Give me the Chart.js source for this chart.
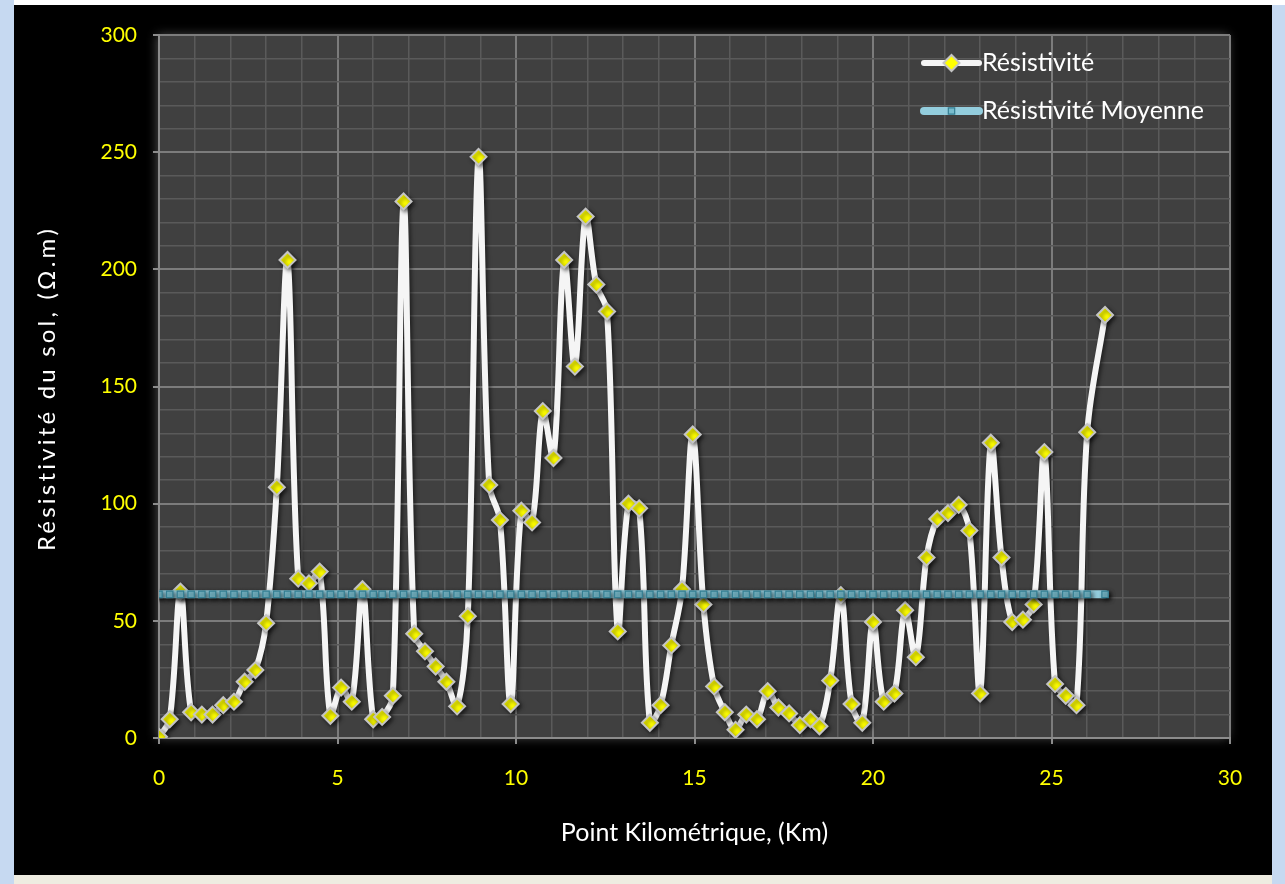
<!DOCTYPE html>
<html>
<head>
<meta charset="utf-8">
<title>Résistivité du sol</title>
<script src="https://cdn.jsdelivr.net/npm/chart.js@4.4.1/dist/chart.umd.min.js"></script>
<style>
  html, body { margin: 0; padding: 0; }
  body { width: 1285px; height: 884px; background: #c6d9f1; position: relative; overflow: hidden; }
  #topStrip { position: absolute; left: 14px; top: 0; width: 1271px; height: 5px; background: #fff; }
  #bottomStrip { position: absolute; left: 14px; top: 875px; width: 1258px; height: 9px; background: #eeece1; }
  #frame { position: absolute; left: 14px; top: 5px; width: 1258px; height: 870px; background: #000; }
  canvas { display: block; }
</style>
</head>
<body>
<div id="topStrip"></div>
<div id="frame"><canvas id="chart" width="1258" height="870"></canvas></div>
<div id="bottomStrip"></div>
<script>
// Point kilométrique (km)
const km = [
  0, 0.3, 0.6, 0.9, 1.2, 1.5, 1.8, 2.1, 2.4, 2.7,
  3.0, 3.3, 3.6, 3.9, 4.2, 4.5, 4.8, 5.1, 5.4, 5.7,
  6.0, 6.25, 6.55, 6.85, 7.15, 7.45, 7.75, 8.05, 8.35, 8.65,
  8.95, 9.25, 9.55, 9.85, 10.15, 10.45, 10.75, 11.05, 11.35, 11.65,
  11.95, 12.25, 12.55, 12.85, 13.15, 13.45, 13.75, 14.05, 14.35, 14.65,
  14.95, 15.25, 15.55, 15.85, 16.15, 16.45, 16.75, 17.05, 17.35, 17.65,
  17.95, 18.25, 18.5, 18.8, 19.1, 19.4, 19.7, 20.0, 20.3, 20.6,
  20.9, 21.2, 21.5, 21.8, 22.1, 22.4, 22.7, 23.0, 23.3, 23.6,
  23.9, 24.2, 24.5, 24.8, 25.1, 25.4, 25.7, 26.0, 26.5
]

// Résistivité du sol (Ω.m)
const resistivite = [
  0.5, 8, 62.5, 11, 10, 10, 14, 15.5, 24, 29,
  49, 107, 204, 68, 66, 71, 9.5, 21.5, 15.5, 63.5,
  8, 9, 18, 229, 44.5, 37, 30.5, 24, 13.5, 52,
  248, 108, 93, 14.5, 97, 92, 139.5, 119.5, 204, 158.5,
  222.5, 193.5, 182, 45.5, 100, 98, 6.5, 14, 39.5, 63.5,
  129.5, 57, 22, 11, 3.5, 10, 8, 20, 13, 10.5,
  5.5, 8, 5, 24.5, 61, 14.5, 6.5, 49.5, 15.5, 19,
  54.5, 34.5, 77, 93.5, 96, 99.5, 88.5, 19, 126, 77,
  49.5, 50.5, 57, 122, 23, 18, 14, 130.5, 180.5
]

// Résistivité moyenne (Ω.m)
const moyenne = [
  61.3, 61.3, 61.3, 61.3, 61.3, 61.3, 61.3, 61.3, 61.3, 61.3,
  61.3, 61.3, 61.3, 61.3, 61.3, 61.3, 61.3, 61.3, 61.3, 61.3,
  61.3, 61.3, 61.3, 61.3, 61.3, 61.3, 61.3, 61.3, 61.3, 61.3,
  61.3, 61.3, 61.3, 61.3, 61.3, 61.3, 61.3, 61.3, 61.3, 61.3,
  61.3, 61.3, 61.3, 61.3, 61.3, 61.3, 61.3, 61.3, 61.3, 61.3,
  61.3, 61.3, 61.3, 61.3, 61.3, 61.3, 61.3, 61.3, 61.3, 61.3,
  61.3, 61.3, 61.3, 61.3, 61.3, 61.3, 61.3, 61.3, 61.3, 61.3,
  61.3, 61.3, 61.3, 61.3, 61.3, 61.3, 61.3, 61.3, 61.3, 61.3,
  61.3, 61.3, 61.3, 61.3, 61.3, 61.3, 61.3, 61.3, 61.3
]

const labelResist = 'Résistivité'
const labelMoyenne = 'Résistivité Moyenne'
const xTitle = 'Point Kilométrique, (Km)'
const yTitle = 'Résistivité du sol, (Ω.m)'

const FONT = 'Lato'
const TICK_YELLOW = '#ffff00'

const toPoints = (xs, ys) => xs.map((x, i) => ({ x: x, y: ys[i] }))

// dark grey plot area
const plotBg = {
  id: 'plotBg',
  beforeDraw(chart) {
    const { ctx, chartArea: a } = chart
    ctx.save()
    ctx.shadowColor = 'rgba(255,255,255,0.3)'
    ctx.shadowBlur = 10
    ctx.shadowOffsetX = -2
    ctx.fillStyle = '#404040'
    ctx.fillRect(a.left, a.top, a.width, a.height)
    ctx.restore()
  }
}

// soft shadow under the series
const seriesShadow = {
  id: 'seriesShadow',
  beforeDatasetDraw(chart) {
    const ctx = chart.ctx
    ctx.save()
    ctx.shadowColor = 'rgba(0,0,0,0.55)'
    ctx.shadowBlur = 4
    ctx.shadowOffsetX = 2
    ctx.shadowOffsetY = 2
  },
  afterDatasetDraw(chart) {
    chart.ctx.restore()
  }
}

// vertical axis title, a bit letter-spaced like the original
const yAxisTitle = {
  id: 'yAxisTitle',
  afterDraw(chart) {
    const { ctx, chartArea: a } = chart
    ctx.save()
    ctx.translate(33, (a.top + a.bottom) / 2 + 2)
    ctx.rotate(-Math.PI / 2)
    ctx.fillStyle = '#ffffff'
    ctx.font = '24px ' + FONT
    ctx.letterSpacing = '3.2px'
    ctx.textAlign = 'center'
    ctx.textBaseline = 'middle'
    ctx.fillText(yTitle, 0, 0)
    ctx.restore()
  }
}

// legend inside the plot, top right
const innerLegend = {
  id: 'innerLegend',
  afterDraw(chart) {
    const { ctx, chartArea: a } = chart
    const rows = [chart.data.datasets[1], chart.data.datasets[0]]
    const x0 = a.right - 306
    const x1 = a.right - 251
    ctx.save()
    rows.forEach((ds, i) => {
      const y = a.top + 28 + i * 48
      ctx.lineCap = 'round'
      ctx.strokeStyle = ds.borderColor
      ctx.lineWidth = ds.borderWidth
      ctx.beginPath()
      ctx.moveTo(x0, y)
      ctx.lineTo(x1, y)
      ctx.stroke()
      ctx.fillStyle = ds.pointBackgroundColor
      ctx.strokeStyle = ds.pointBorderColor
      ctx.lineWidth = ds.pointBorderWidth
      Chart.helpers.drawPoint(ctx, { pointStyle: ds.pointStyle, radius: ds.pointRadius, rotation: 0, borderWidth: ds.pointBorderWidth }, (x0 + x1) / 2, y)
      ctx.fillStyle = '#ffffff'
      ctx.font = '25px ' + FONT
      ctx.textBaseline = 'middle'
      ctx.textAlign = 'left'
      ctx.fillText(ds.label, x1 + 3, y)
    })
    ctx.restore()
  }
}

const gridColor = (step) => (c) => (c.tick && c.tick.value % step === 0 ? '#7c7c7c' : '#5a5a5a')
const gridWidth = (step) => (c) => (c.tick && c.tick.value % step === 0 ? 2 : 1.5)
const tickColor = (step) => (c) => (c.tick && c.tick.value % step === 0 ? '#8c8c8c' : 'rgba(0,0,0,0)')

new Chart(document.getElementById('chart').getContext('2d'), {
  type: 'line',
  data: {
    datasets: [
      {
        label: labelMoyenne,
        data: toPoints(km, moyenne),
        order: 1,
        borderColor: '#93cddd',
        borderWidth: 8,
        borderCapStyle: 'round',
        tension: 0,
        pointStyle: 'rect',
        pointRadius: 4.5,
        pointBackgroundColor: '#78bccd',
        pointBorderColor: '#357f93',
        pointBorderWidth: 1.2
      },
      {
        label: labelResist,
        data: toPoints(km, resistivite),
        order: 2,
        borderColor: '#f5f5f5',
        borderWidth: 6,
        tension: 0.35,
        pointStyle: 'rectRot',
        pointRadius: 8,
        pointBackgroundColor: '#ffff00',
        pointBorderColor: '#c4c4c4',
        pointBorderWidth: 2
      }
    ]
  },
  options: {
    responsive: false,
    animation: false,
    devicePixelRatio: 1,
    layout: { padding: { top: 30, right: 42, left: 0, bottom: 0 } },
    plugins: {
      legend: { display: false },
      tooltip: { enabled: false }
    },
    scales: {
      x: {
        type: 'linear',
        min: 0,
        max: 30,
        afterFit: (s) => { s.height = 137 },
        ticks: {
          stepSize: 1,
          autoSkip: false,
          maxRotation: 0,
          color: TICK_YELLOW,
          padding: 22,
          font: { family: FONT, size: 21 },
          callback: (v) => (v % 5 === 0 ? v : '')
        },
        grid: { color: gridColor(5), lineWidth: gridWidth(5), tickColor: tickColor(5), tickLength: 6 },
        border: { color: '#8c8c8c', width: 2 },
        title: {
          display: true,
          text: xTitle,
          color: '#ffffff',
          font: { family: FONT, size: 25 },
          padding: { top: 0, bottom: 27 }
        }
      },
      y: {
        min: 0,
        max: 300,
        afterFit: (s) => { s.width = 145 },
        ticks: {
          stepSize: 10,
          autoSkip: false,
          color: TICK_YELLOW,
          padding: 16,
          font: { family: FONT, size: 21 },
          callback: (v) => (v % 50 === 0 ? v : '')
        },
        grid: { color: gridColor(50), lineWidth: gridWidth(50), tickColor: tickColor(50), tickLength: 6 },
        border: { color: '#8c8c8c', width: 2 },
        title: { display: false }
      }
    }
  },
  plugins: [plotBg, seriesShadow, yAxisTitle, innerLegend]
})
</script>
</body>
</html>
